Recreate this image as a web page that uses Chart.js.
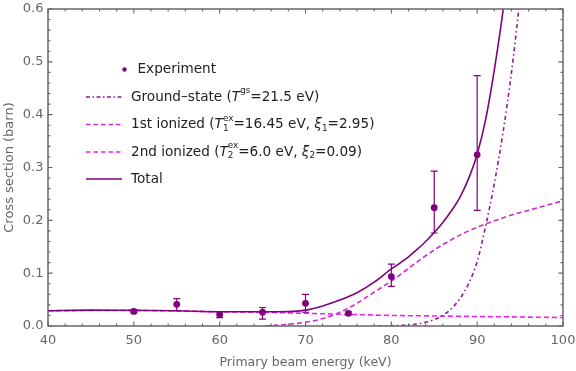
<!DOCTYPE html>
<html><head><meta charset="utf-8">
<script src="https://cdn.jsdelivr.net/npm/chart.js@4/dist/chart.umd.min.js"></script>
<style>html,body{margin:0;padding:0;background:#fff}#wrap{width:576px;height:371px;position:relative}</style>
</head><body><div id="wrap"><canvas id="c" width="576" height="371"></canvas></div>
<script>
// ---- data ----
const expEnergy  = [50, 55, 60, 65, 70, 75, 80, 85, 90];
const expValue   = [0.0275, 0.041, 0.022, 0.026, 0.043, 0.024, 0.0935, 0.224, 0.324];
const expErrLow  = [0.025, 0.029, 0.016, 0.013, 0.026, 0.021, 0.075, 0.176, 0.219];
const expErrHigh = [0.031, 0.052, 0.027, 0.035, 0.060, 0.027, 0.117, 0.293, 0.474];

const gsEnergy = [78.5, 80, 82, 84, 85, 86, 87, 88, 89, 90, 91, 92, 93, 94, 95];
const gsValue  = [0, 0.0005, 0.002, 0.007, 0.012, 0.02, 0.033, 0.052, 0.08, 0.122, 0.19, 0.27, 0.365, 0.48, 0.62];

const ion1Energy = [65.3, 67, 70, 72, 74, 76, 78, 80, 82, 84, 86, 88, 90, 92, 94, 96, 98, 100];
const ion1Value  = [0, 0.002, 0.007, 0.014, 0.026, 0.043, 0.064, 0.085, 0.109, 0.133, 0.154, 0.172, 0.187, 0.199, 0.21, 0.219, 0.228, 0.237];

const ion2Energy = [40, 50, 60, 65, 70, 75, 80, 85, 90, 95, 100];
const ion2Value  = [0.029, 0.0295, 0.027, 0.026, 0.024, 0.022, 0.020, 0.019, 0.018, 0.017, 0.016];

const totEnergy = [40, 45, 50, 55, 60, 65, 67, 70, 72, 74, 76, 78, 80, 81, 82, 83, 84, 85, 86, 87, 88, 89, 90, 91, 92, 93, 93.6];
const totValue  = [0.029, 0.030, 0.0295, 0.029, 0.027, 0.027, 0.027, 0.030, 0.038, 0.049, 0.063, 0.083, 0.108, 0.119, 0.131, 0.145, 0.160, 0.177, 0.196, 0.218, 0.244, 0.279, 0.325, 0.392, 0.485, 0.595, 0.67];

const xTickValues = [40, 50, 60, 70, 80, 90, 100];
const yTickValues = [0.0, 0.1, 0.2, 0.3, 0.4, 0.5, 0.6];

const seriesNames = ['Experiment', 'Ground–state', '1st ionized', '2nd ionized', 'Total'];
const xTitle = 'Primary beam energy (keV)';
const yTitle = 'Cross section (barn)';

// ---- styles ----
const PURPLE = '#800080';
const GS_COL = '#8e1a8e';
const ION1_COL = '#cc2ccc';
const ION2_COL = '#ee22ee';
const FONT = '"DejaVu Sans", "Noto Sans", sans-serif';

function pts(xs, ys) { return xs.map((x, i) => ({x: x, y: ys[i]})); }

const errorBars = {
  id: 'errorBars',
  afterDatasetsDraw(chart) {
    const ctx = chart.ctx, xs = chart.scales.x, ys = chart.scales.y;
    ctx.save();
    ctx.strokeStyle = PURPLE; ctx.lineWidth = 1.2;
    expEnergy.forEach((e, i) => {
      const px = xs.getPixelForValue(e);
      const y1 = ys.getPixelForValue(expErrLow[i]);
      const y2 = ys.getPixelForValue(expErrHigh[i]);
      ctx.beginPath();
      ctx.moveTo(px, y1); ctx.lineTo(px, y2);
      ctx.moveTo(px - 3.5, y1); ctx.lineTo(px + 3.5, y1);
      ctx.moveTo(px - 3.5, y2); ctx.lineTo(px + 3.5, y2);
      ctx.stroke();
    });
    ctx.restore();
  }
};

const frame = {
  id: 'frame',
  afterDraw(chart) {
    const ctx = chart.ctx, a = chart.chartArea, xs = chart.scales.x, ys = chart.scales.y;
    ctx.save();
    ctx.strokeStyle = '#666'; ctx.lineWidth = 1.5;
    ctx.strokeRect(a.left, a.top, a.right - a.left, a.bottom - a.top);
    ctx.lineWidth = 1.1;
    ctx.beginPath();
    for (let v = 40; v <= 100.001; v += 2) {
      const px = xs.getPixelForValue(v);
      const major = Math.abs(v % 10) < 1e-6;
      const len = major ? 4.5 : 2.5;
      ctx.moveTo(px, a.bottom); ctx.lineTo(px, a.bottom - len);
      ctx.moveTo(px, a.top); ctx.lineTo(px, a.top + len);
    }
    for (let k = 0; k <= 30; k++) {
      const v = k * 0.02;
      const py = ys.getPixelForValue(v);
      const len = (k % 5 === 0) ? 4.5 : 2.5;
      ctx.moveTo(a.left, py); ctx.lineTo(a.left + len, py);
      ctx.moveTo(a.right, py); ctx.lineTo(a.right - len, py);
    }
    ctx.stroke();
    ctx.restore();
  }
};

function drawRich(ctx, x, y, segs) {
  for (const s of segs) {
    if (s.sup !== undefined || s.sub !== undefined) {
      ctx.font = '8.8px ' + FONT;
      let w = 0;
      if (s.sup) { ctx.fillText(s.sup, x, y - 6); w = Math.max(w, ctx.measureText(s.sup).width); }
      if (s.sub) { ctx.fillText(s.sub, x, y + 4); w = Math.max(w, ctx.measureText(s.sub).width); }
      x += w;
    } else {
      ctx.font = (s.i ? 'italic ' : '') + '13.6px ' + FONT;
      ctx.fillText(s.t, x, y);
      x += ctx.measureText(s.t).width;
    }
  }
}

const customLegend = {
  id: 'customLegend',
  afterDraw(chart) {
    const ctx = chart.ctx;
    ctx.save();
    ctx.textBaseline = 'middle';
    ctx.fillStyle = '#222';
    const rows = [
      {kind: 'dot', y: 69.5, segs: [{t: seriesNames[0]}]},
      {kind: 'line', y: 97, col: GS_COL, dash: [4, 2.5, 1.5, 2.5], segs: [{t: seriesNames[1] + ' ('}, {t: 'T', i: true}, {sup: 'gs'}, {t: '=21.5 eV)'}]},
      {kind: 'line', y: 124.5, col: ION1_COL, dash: [4.5, 3], segs: [{t: seriesNames[2] + ' ('}, {t: 'T', i: true}, {sup: 'ex', sub: '1'}, {t: '=16.45 eV, '}, {t: 'ξ', i: true}, {sub: '1'}, {t: '=2.95)'}]},
      {kind: 'line', y: 152, col: ION2_COL, dash: [4.5, 3], segs: [{t: seriesNames[3] + ' ('}, {t: 'T', i: true}, {sup: 'ex', sub: '2'}, {t: '=6.0 eV, '}, {t: 'ξ', i: true}, {sub: '2'}, {t: '=0.09)'}]},
      {kind: 'line', y: 179, col: PURPLE, dash: [], segs: [{t: seriesNames[4]}]}
    ];
    for (const r of rows) {
      if (r.kind === 'dot') {
        ctx.fillStyle = PURPLE;
        ctx.beginPath(); ctx.arc(124.5, r.y, 2.2, 0, Math.PI * 2); ctx.fill();
        ctx.fillStyle = '#222';
        drawRich(ctx, 137.5, r.y, r.segs);
      } else {
        ctx.strokeStyle = r.col; ctx.lineWidth = 1.6; ctx.setLineDash(r.dash);
        ctx.beginPath(); ctx.moveTo(86, r.y); ctx.lineTo(122, r.y); ctx.stroke();
        ctx.setLineDash([]);
        ctx.fillStyle = '#222';
        drawRich(ctx, 131, r.y, r.segs);
      }
    }
    ctx.restore();
  }
};

const tickFont = {family: FONT, size: 13};

new Chart(document.getElementById('c'), {
  type: 'scatter',
  data: {
    datasets: [
      {label: seriesNames[0], data: pts(expEnergy, expValue), showLine: false, pointRadius: 3.4, pointBackgroundColor: PURPLE, pointBorderWidth: 0, order: 0},
      {label: seriesNames[4], data: pts(totEnergy, totValue), showLine: true, pointRadius: 0, borderColor: PURPLE, borderWidth: 1.6, cubicInterpolationMode: 'monotone', order: 1},
      {label: seriesNames[1], data: pts(gsEnergy, gsValue), showLine: true, pointRadius: 0, borderColor: GS_COL, borderWidth: 1.6, borderDash: [4, 3, 1.5, 3], cubicInterpolationMode: 'monotone', order: 2},
      {label: seriesNames[2], data: pts(ion1Energy, ion1Value), showLine: true, pointRadius: 0, borderColor: ION1_COL, borderWidth: 1.6, borderDash: [5, 3], cubicInterpolationMode: 'monotone', order: 3},
      {label: seriesNames[3], data: pts(ion2Energy, ion2Value), showLine: true, pointRadius: 0, borderColor: ION2_COL, borderWidth: 1.6, borderDash: [5, 3], cubicInterpolationMode: 'monotone', order: 4}
    ]
  },
  options: {
    responsive: false, animation: false, events: [],
    layout: {padding: {top: 9, right: 13, left: 0, bottom: 0}},
    plugins: {legend: {display: false}, tooltip: {enabled: false}},
    scales: {
      x: {
        type: 'linear', min: 40, max: 100,
        afterBuildTicks(s) { s.ticks = xTickValues.map(v => ({value: v})); },
        ticks: {color: '#666', font: tickFont, padding: 7, maxRotation: 0, autoSkip: false, callback: v => String(v)},
        grid: {display: false, drawTicks: false}, border: {display: false},
        title: {display: true, text: xTitle, color: '#666', font: {family: FONT, size: 12.5}, padding: {top: 0, bottom: 1}},
        afterFit(s) { s.height = 45; s.paddingLeft = 0; s.paddingRight = 0; }
      },
      y: {
        type: 'linear', min: 0, max: 0.6,
        afterBuildTicks(s) { s.ticks = yTickValues.map(v => ({value: v})); },
        ticks: {color: '#666', font: tickFont, padding: 4.5, autoSkip: false, callback: v => Number(v).toFixed(1)},
        grid: {display: false, drawTicks: false}, border: {display: false},
        title: {display: true, text: yTitle, color: '#666', font: {family: FONT, size: 13}, padding: {top: 2, bottom: 0}},
        afterFit(s) { s.width = 48; s.paddingTop = 0; s.paddingBottom = 0; }
      }
    }
  },
  plugins: [errorBars, frame, customLegend]
});
</script>
</body></html>
